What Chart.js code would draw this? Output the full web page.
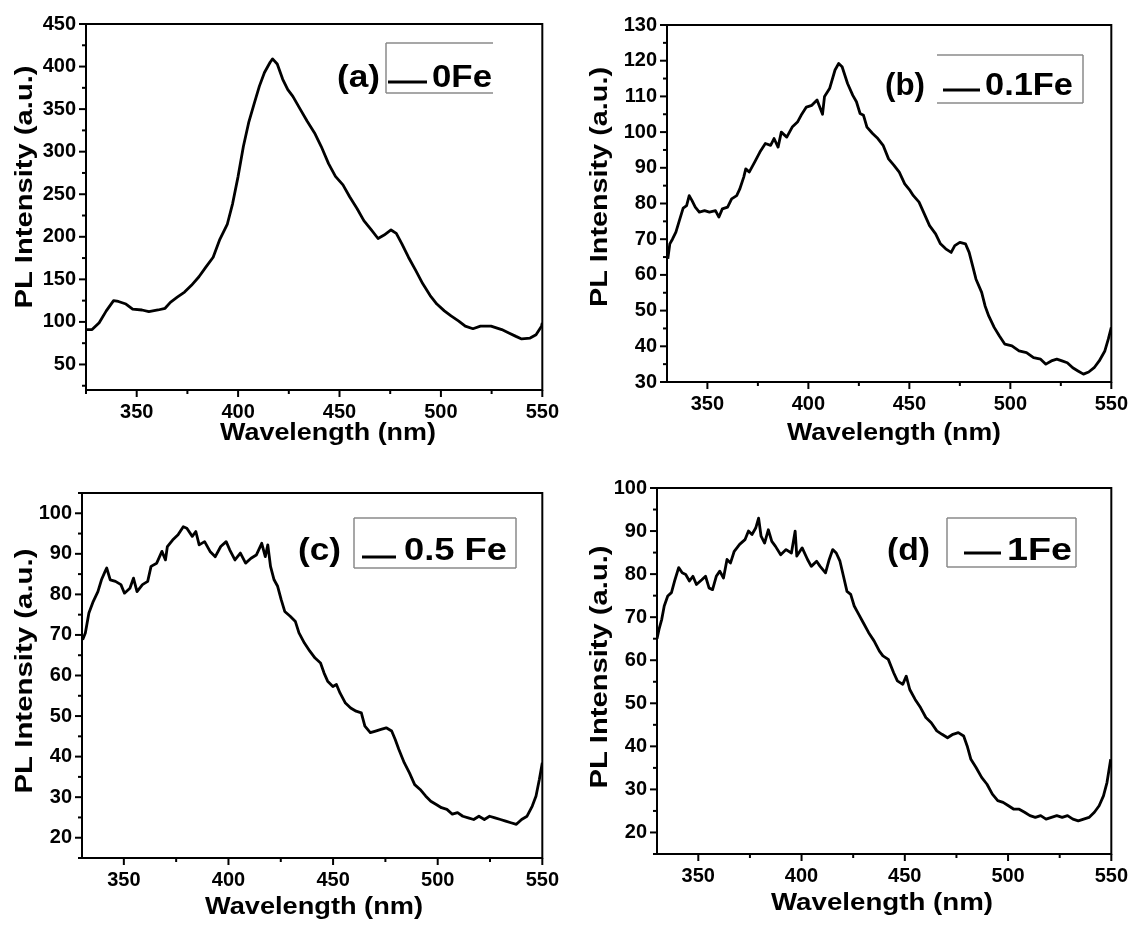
<!DOCTYPE html>
<html>
<head>
<meta charset="utf-8">
<script src="https://cdn.jsdelivr.net/npm/chart.js@4.4.1/dist/chart.umd.min.js"></script>
<style>
  html, body { margin: 0; padding: 0; background: #fff; }
  #fig { position: relative; width: 1138px; height: 925px; overflow: hidden; background: #fff; }
  #fig canvas { position: absolute; }
</style>
</head>
<body>
<div id="fig">
  <canvas id="pa" width="569" height="462" style="left:0;top:0"></canvas>
  <canvas id="pb" width="569" height="462" style="left:569px;top:0"></canvas>
  <canvas id="pc" width="569" height="463" style="left:0;top:462px"></canvas>
  <canvas id="pd" width="569" height="463" style="left:569px;top:462px"></canvas>
</div>
<script>
// ---- PL spectra (wavelength in nm, intensity in a.u.) ----
const wlA = [
  325.5,328,331.5,335,338.6,341,344.7,348,352.6,356,
  360.5,364,366.6,370,373.6,377,380.7,384,387.7,391,
  394.7,397.3,400,402.6,405.2,408,410.5,413,415.8,417,
  419.3,422,424.5,427,430.6,434,437.7,441,444.6,448,
  451.7,455,458.7,462,465.7,469,472,475.4,478,480.7,
  484,487.7,491,494.7,498,501.7,505,508.8,512,515.8,
  519.5,524.7,530,533.5,537,539.8,544,546.9,549.6,550
];
const plA = [
  91,91,99,113,125,124,121,115,114,112,
  114,116,123,129,135,143,153,164,176,197,
  215,239,271,306,334,357,377,393,405,409,
  403,385,373,365,350,336,322,306,286,271,
  261,247,233,219,208,198,202,208,204,192,
  176,160,145,131,121,113,107,101,95,92,
  95,95,91,87,83,80,81,85,95,99
];

const wlB = [
  330.4,331.4,332.7,334.4,336,338,339.7,341,342.4,344,
  346,348.6,351,354,355.7,357.4,360,362,364.5,366,
  368,369,370.7,373.4,376,378.7,381.3,383,385,386.6,
  389.3,392,394.6,396.4,399,401.7,404.3,407,408,410.5,
  413.2,415,416.7,419.4,422,423.8,425.6,427.3,429,431.8,
  434.4,437,439.7,442.4,445,447.7,450.4,452,454.8,457.4,
  460,463,465.4,468,470.7,472.5,475,477.8,479.6,481.3,
  483,485.8,487.5,489.3,492,494.6,497.3,500.8,504.3,508,
  511.5,515,517.6,520.3,523,525.6,528.2,530.9,533.5,536.2,
  538.8,541.5,544,546.8,548.5,550
];
const plB = [
  64.5,68.7,70,72,75,78.7,79.4,82.2,80.8,79,
  77.6,78,77.6,78,76.2,78.5,79,81.3,82.2,84,
  87.4,89.7,88.8,91.6,94.4,96.8,96.3,98.2,95.8,100,
  98.6,101.4,102.8,104.7,107,107.5,109,105,110,112.2,
  117.4,119.2,118.3,113.6,110.3,108.5,105.2,104.7,101.4,99.6,
  98.2,96.3,92.5,90.7,88.8,85.5,83.6,82.2,80.4,77.1,
  73.8,71.5,68.7,67.3,66.3,68.2,69.1,68.7,66.3,62.6,
  58.8,55.1,51.3,48.5,45.3,42.9,40.6,40.1,38.7,38.2,
  36.8,36.4,35,35.9,36.4,35.9,35.4,34,33.1,32.2,
  32.8,34,35.9,38.7,42,45.3
];

const wlC = [
  330.3,331.6,333.3,335.4,337.6,339.3,341,341.8,343.5,346,
  348.6,350.3,352.9,354.6,356.3,358.9,361.4,363,365.7,368.2,
  369.9,370.8,373.3,375.9,378.4,380.1,382.7,384.4,386,388.6,
  391.2,393.7,396.3,398.9,400.6,403.1,405.7,408.2,410.8,413.3,
  415.9,417.6,418.8,420.1,421.8,423.5,425.2,426.9,429.5,432,
  433.7,436.3,438.9,441.4,444,445.7,447.4,449.9,451.6,453.3,
  455.9,458.4,461,463.5,465.2,467.8,470.3,472.9,475.4,478,
  479.7,481.4,484,486.5,489,491.6,494.2,496.7,499.3,501.8,
  504.4,507,509.5,512,514.6,517.2,519.7,522.3,524.8,527.4,
  530,532.5,535,537.6,540.1,542.7,545.2,547,548.6,550
];
const plC = [
  68.8,70.5,75.4,78.3,80.7,83.6,85.6,86.5,83.6,83.2,
  82.4,80.3,81.5,84,80.7,82.4,83.2,86.9,87.7,90.6,
  88.5,91.8,93.4,94.7,96.7,96.3,94.3,95.5,92.2,93,
  90.6,89.3,91.8,93,91,88.5,90.2,87.7,88.9,89.7,
  92.6,89.3,92.2,86.9,83.6,82,78.7,75.8,74.6,73.3,
  70.5,68,66,64.3,63.1,60.6,58.6,57.3,57.8,55.7,
  53.2,52,51.2,50.8,47.5,45.9,46.3,46.7,47.1,46.3,
  44.2,41.8,38.5,36,33.1,31.9,30.3,29,28.2,27.4,
  27,25.8,26.2,25.3,24.9,24.5,25.3,24.5,25.3,24.9,
  24.5,24.1,23.7,23.3,24.5,25.3,27.8,30.3,34.4,38.5
];

const wlD = [
  330,331,332.3,333.5,335.2,337,338.7,340.5,342.2,343.9,
  345.7,347.4,349.1,351.7,353.5,355.2,356.9,358.7,360.4,362.2,
  363.9,365.6,367.4,370,372.6,374.3,376,377.8,379.2,380.4,
  382.1,383.9,385.6,387.3,389.9,392.5,395.1,396.9,397.7,400.3,
  402.9,404.7,407.3,409,411.6,413.4,415.1,416.8,418.6,420.3,
  422,423.8,425.5,427.3,429.9,432.5,435.1,437.7,439.4,442,
  444.6,446.4,449,450.7,452.4,455,457.6,460.2,462.8,465.5,
  468,470.7,473.3,475.9,478.5,480.2,482,484.5,487.2,489.8,
  492.4,495,497.6,500.2,502.8,505.4,508,510.6,513.2,515.8,
  518.4,521,523.6,526.2,528.8,531.4,534,536.6,539.2,541.8,
  544.1,546.2,547.9,549.7
];
const plD = [
  65,67.2,69.5,72.6,74.9,75.7,78.7,81.5,80.3,79.9,
  78.4,79.5,77.6,78.7,79.5,76.8,76.4,79.5,80.7,79.1,
  83.4,82.6,85.3,86.9,88,90,89.2,90.7,93,88.8,
  87.2,90.3,87.6,86.5,84.5,85.7,84.9,90,84.2,86.1,
  83.4,81.8,83,81.8,80.3,83.4,85.7,84.9,83,79.5,
  76,75.3,72.6,71,68.7,66.4,64.5,62.1,61,60.2,
  57.1,55.2,54.4,56.3,53.2,50.9,49,46.7,45.5,43.6,
  42.8,42,42.8,43.2,42.4,40.1,37,35.1,32.8,31.2,
  28.9,27.4,27,26.2,25.4,25.4,24.7,23.9,23.5,23.9,
  23.1,23.5,23.9,23.5,23.9,23.1,22.7,23.1,23.5,24.7,
  26.2,28.5,31.6,37
];

// ---- tick labels ----
const xTickLabels = [350, 400, 450, 500, 550];
const yTicksA = [50, 100, 150, 200, 250, 300, 350, 400, 450];
const yTicksB = [30, 40, 50, 60, 70, 80, 90, 100, 110, 120, 130];
const yTicksC = [20, 30, 40, 50, 60, 70, 80, 90, 100];
const yTicksD = [20, 30, 40, 50, 60, 70, 80, 90, 100];

// ---- text ----
const seriesNames = ['0Fe', '0.1Fe', '0.5 Fe', '1Fe'];
const panelTags = ['(a)', '(b)', '(c)', '(d)'];
const xTitle = 'Wavelength (nm)';
const yTitle = 'PL Intensity (a.u.)';

const FAMILY = "'Liberation Sans', Arial, Helvetica, sans-serif";

// draw text stretched along its writing direction to a given length
function fitText(ctx, text, font, x, y, len, align, baseline, rotate) {
  ctx.save();
  ctx.font = font;
  const natural = ctx.measureText(text).width;
  ctx.translate(x, y);
  if (rotate) ctx.rotate(-Math.PI / 2);
  ctx.scale(len / natural, 1);
  ctx.textAlign = align;
  ctx.textBaseline = baseline;
  ctx.fillStyle = '#000';
  ctx.fillText(text, 0, 0);
  ctx.restore();
}

// frame, outward major/minor ticks, axis titles and the boxed key
function panelDeco(lay) {
  return {
    id: 'panelDeco',
    afterDraw(chart) {
      const ctx = chart.ctx, a = chart.chartArea;
      const xs = chart.scales.x, ys = chart.scales.y;
      ctx.save();
      ctx.strokeStyle = '#000';
      ctx.lineWidth = 2;
      const isMajor = (v, step) => Math.abs(v / step - Math.round(v / step)) < 1e-6;
      for (let v = Math.ceil(xs.min / lay.xMinor - 1e-9) * lay.xMinor; v <= xs.max + 1e-9; v += lay.xMinor) {
        const p = xs.getPixelForValue(v);
        const len = isMajor(v, lay.xMajor) ? 7 : 4;
        ctx.beginPath(); ctx.moveTo(p, a.bottom); ctx.lineTo(p, a.bottom + len); ctx.stroke();
      }
      for (let v = Math.ceil(ys.min / lay.yMinor - 1e-9) * lay.yMinor; v <= ys.max + 1e-9; v += lay.yMinor) {
        const p = ys.getPixelForValue(v);
        const len = isMajor(v, lay.yMajor) ? 7 : 4;
        ctx.beginPath(); ctx.moveTo(a.left, p); ctx.lineTo(a.left - len, p); ctx.stroke();
      }
      ctx.strokeRect(a.left, a.top, a.right - a.left, a.bottom - a.top);

      // axis titles
      const titleFont = 'bold 24px ' + FAMILY;
      fitText(ctx, xTitle, titleFont, lay.xt.x, lay.xt.y, lay.xt.len, 'center', 'middle', false);
      fitText(ctx, yTitle, titleFont, lay.yt.x, lay.yt.y, lay.yt.len, 'center', 'middle', true);

      // key: panel tag, grey box, line sample and series name
      const keyFont = 'bold 32px ' + FAMILY;
      const k = lay.key;
      fitText(ctx, k.tag, keyFont, k.tagL, k.base, k.tagR - k.tagL, 'left', 'alphabetic', false);
      ctx.strokeStyle = '#8a8a8a';
      ctx.lineWidth = 1.5;
      const b = k.box;
      ctx.beginPath();
      if (b.sides.includes('t')) { ctx.moveTo(b.l, b.t); ctx.lineTo(b.r, b.t); }
      if (b.sides.includes('b')) { ctx.moveTo(b.l, b.b); ctx.lineTo(b.r, b.b); }
      if (b.sides.includes('l')) { ctx.moveTo(b.l, b.t); ctx.lineTo(b.l, b.b); }
      if (b.sides.includes('r')) { ctx.moveTo(b.r, b.t); ctx.lineTo(b.r, b.b); }
      ctx.stroke();
      const ds = chart.data.datasets[0];
      ctx.strokeStyle = ds.borderColor;
      ctx.lineWidth = 3;
      ctx.beginPath(); ctx.moveTo(k.lineL, k.lineY); ctx.lineTo(k.lineR, k.lineY); ctx.stroke();
      fitText(ctx, ds.label, keyFont, k.textL, k.base, k.textR - k.textL, 'left', 'alphabetic', false);
      ctx.restore();
    }
  };
}

function buildPanel(id, wl, pl, name, yTicks, lay) {
  const points = wl.map((w, i) => ({ x: w, y: pl[i] }));
  const tickFont = { family: FAMILY, size: 20, weight: 'bold' };
  return new Chart(document.getElementById(id), {
    type: 'line',
    data: {
      datasets: [{
        label: name,
        data: points,
        borderColor: '#000',
        borderWidth: 2.8,
        borderJoinStyle: 'round',
        pointRadius: 0,
        tension: 0,
        fill: false
      }]
    },
    options: {
      responsive: false,
      animation: false,
      devicePixelRatio: 1,
      events: [],
      layout: { padding: { left: 0, top: lay.T, right: lay.W - lay.R, bottom: 0 } },
      plugins: { legend: { display: false }, tooltip: { enabled: false }, title: { display: false } },
      scales: {
        x: {
          type: 'linear', min: lay.xMin, max: lay.xMax,
          grid: { display: false, drawTicks: false },
          border: { display: false },
          afterBuildTicks: s => { s.ticks = xTickLabels.map(v => ({ value: v })); },
          afterFit: s => { s.height = lay.H - lay.B; },
          ticks: { font: tickFont, color: '#000', padding: 10, maxRotation: 0, autoSkip: false }
        },
        y: {
          type: 'linear', min: lay.yMin, max: lay.yMax,
          grid: { display: false, drawTicks: false },
          border: { display: false },
          afterBuildTicks: s => { s.ticks = yTicks.map(v => ({ value: v })); },
          afterFit: s => { s.width = lay.L; },
          ticks: { font: tickFont, color: '#000', padding: 10, autoSkip: false }
        }
      }
    },
    plugins: [panelDeco(lay)]
  });
}

buildPanel('pa', wlA, plA, seriesNames[0], yTicksA, {
  W: 569, H: 462, L: 86, T: 24, R: 547, B: 390,
  xMin: 325, xMax: 550, yMin: 20, yMax: 450,
  xMinor: 25, xMajor: 50, yMinor: 25, yMajor: 50,
  xt: { x: 328, y: 433, len: 216 }, yt: { x: 25, y: 187, len: 243 },
  key: { tag: panelTags[0], tagL: 337, tagR: 380, base: 87,
         box: { l: 386, t: 43, r: 493, b: 93, sides: 'tlb' },
         lineL: 388, lineR: 427, lineY: 82, textL: 432, textR: 492 }
});

buildPanel('pb', wlB, plB, seriesNames[1], yTicksB, {
  W: 569, H: 462, L: 98, T: 25, R: 550, B: 382,
  xMin: 330, xMax: 550, yMin: 30, yMax: 130,
  xMinor: 25, xMajor: 50, yMinor: 5, yMajor: 10,
  xt: { x: 325, y: 433, len: 214 }, yt: { x: 31, y: 187, len: 240 },
  key: { tag: panelTags[1], tagL: 316, tagR: 356, base: 95,
         box: { l: 368, t: 55, r: 514, b: 103, sides: 'trb' },
         lineL: 374, lineR: 411, lineY: 90, textL: 416, textR: 504 }
});

buildPanel('pc', wlC, plC, seriesNames[2], yTicksC, {
  W: 569, H: 463, L: 82, T: 31, R: 545, B: 396,
  xMin: 330, xMax: 550, yMin: 15, yMax: 105,
  xMinor: 25, xMajor: 50, yMinor: 5, yMajor: 10,
  xt: { x: 314, y: 445, len: 218 }, yt: { x: 25, y: 209, len: 245 },
  key: { tag: panelTags[2], tagL: 298, tagR: 341, base: 98,
         box: { l: 354, t: 56, r: 516, b: 106, sides: 'tlbr' },
         lineL: 362, lineR: 396, lineY: 95, textL: 404, textR: 507 }
});

buildPanel('pd', wlD, plD, seriesNames[3], yTicksD, {
  W: 569, H: 463, L: 88, T: 26, R: 550, B: 392,
  xMin: 330, xMax: 550, yMin: 15, yMax: 100,
  xMinor: 25, xMajor: 50, yMinor: 5, yMajor: 10,
  xt: { x: 313, y: 441, len: 222 }, yt: { x: 31, y: 205, len: 243 },
  key: { tag: panelTags[3], tagL: 318, tagR: 361, base: 98,
         box: { l: 378, t: 56, r: 507, b: 105, sides: 'tlbr' },
         lineL: 395, lineR: 432, lineY: 91, textL: 438, textR: 503 }
});
</script>
</body>
</html>
